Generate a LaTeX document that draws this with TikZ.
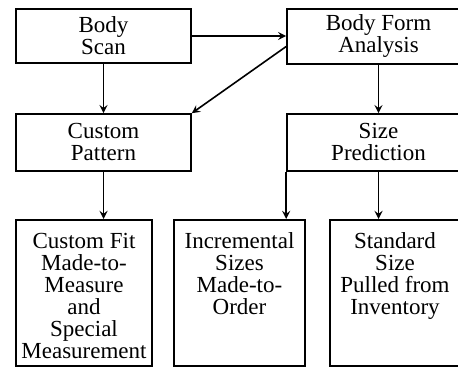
\documentclass[tikz,border=0pt]{standalone}
\usepackage{fontspec}
\setmainfont{Liberation Serif}
\usepackage{tikz}
\usetikzlibrary{arrows}
\tikzstyle{stepbox} = [rectangle, draw=black, thick, inner sep=0pt, align=center, font=\fontsize{11.5}{11}\selectfont]
\tikzstyle{lowbox} = [stepbox, anchor=north]
\tikzstyle{arrow} = [thick,->,>=stealth]

\begin{document}
\begin{tikzpicture}[x=0.5pt,y=-0.5pt]
\useasboundingbox (0,0) rectangle (458,367);
\node (scan) [stepbox, minimum width=87.5pt, minimum height=27pt] at (103.5,36) {Body\\Scan};
\node (form) [stepbox, minimum width=91.5pt, minimum height=27.5pt] at (378.5,36.5) {Body Form\\Analysis};
\node (pattern) [stepbox, minimum width=87.5pt, minimum height=28.5pt] at (103.5,142.5) {Custom\\Pattern};
\node (predict) [stepbox, minimum width=91.5pt, minimum height=28.5pt] at (378.5,142.5) {Size\\Prediction};
% text starts at the top of the lower boxes
\node (custom) [lowbox, minimum width=68pt, text height=69.5pt, text depth=3.5pt] at (84,219) {Custom Fit\\Made-to-\\Measure\\and\\Special\\Measurement};
\node (incr) [lowbox, minimum width=65.5pt, text height=47.5pt, text depth=25.5pt] at (239.5,219) {Incremental\\Sizes\\Made-to-\\Order};
\node (std) [lowbox, minimum width=65pt, text height=47.5pt, text depth=25.5pt] at (395,219) {Standard\\Size\\Pulled from\\Inventory};
\draw[arrow] (scan.east) -- (scan.east -| form.west);
\draw[arrow] ([yshift=-5pt]form.west) -- (pattern.north east);
\draw[arrow] (scan) -- (pattern);
\draw[arrow] (form) -- (predict);
\draw[arrow] (pattern.south) -- (pattern.south |- custom.north);
\draw[arrow] (predict.south west) -- (predict.south west |- incr.north);
\draw[arrow] (predict.south) -- (predict.south |- std.north);
\end{tikzpicture}
\end{document}
